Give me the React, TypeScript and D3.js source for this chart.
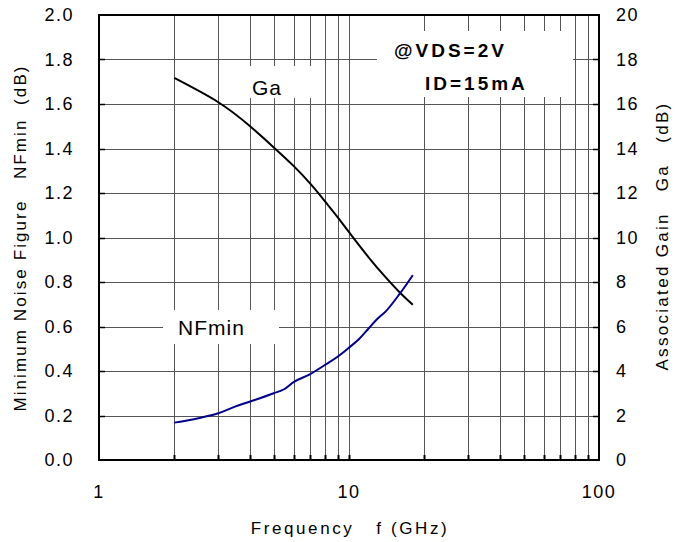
import React from "react";
import * as d3 from "d3";

const freqNF = [2, 2.5, 3, 3.5, 4, 5, 5.5, 6, 7, 8, 9, 10, 11, 12, 13, 14, 16, 18];
const nfMin = [0.168, 0.188, 0.21, 0.24, 0.262, 0.3, 0.318, 0.35, 0.386, 0.427, 0.464, 0.505, 0.545, 0.592, 0.635, 0.667, 0.749, 0.831];
const freqGa = [2, 3, 4, 5, 6, 7, 8, 9, 10, 12, 14, 16, 18];
const gaVals = [17.17, 16.08, 15.02, 14.05, 13.22, 12.42, 11.64, 10.92, 10.24, 9.1, 8.22, 7.52, 6.98];
const leftTicks = [0, 0.2, 0.4, 0.6, 0.8, 1.0, 1.2, 1.4, 1.6, 1.8, 2.0];
const rightTicks = [0, 2, 4, 6, 8, 10, 12, 14, 16, 18, 20];
const xTickLabels = [1, 10, 100];
const xMinor = [2, 3, 4, 5, 6, 7, 8, 9, 20, 30, 40, 50, 60, 70, 80, 90];

const FONT = "'Liberation Sans', Arial, Helvetica, sans-serif";

export default function App() {
  const L = 99, R = 599, T = 15, B = 460;
  const x = d3.scaleLog().domain([1, 100]).range([L, R]);
  const yL = d3.scaleLinear().domain([0, 2]).range([B, T]);
  const yR = d3.scaleLinear().domain([0, 20]).range([B, T]);

  const nfLine = d3.line<number>().x((_, i) => x(freqNF[i])).y((d) => yL(d)).curve(d3.curveMonotoneX);
  const gaLine = d3.line<number>().x((_, i) => x(freqGa[i])).y((d) => yR(d)).curve(d3.curveNatural);

  return (
    <svg width={680} height={542} style={{ position: "absolute", left: 0, top: 0, background: "#fff" }} fontFamily={FONT}>
      <rect x={0} y={0} width={680} height={542} fill="#fff" />
      {/* grid */}
      {leftTicks.slice(1, -1).map((t) => (
        <line key={"h" + t} x1={L} x2={R} y1={Math.round(yL(t)) + 0.5} y2={Math.round(yL(t)) + 0.5} stroke="#555" strokeWidth={1} />
      ))}
      {xMinor.map((f) => (
        <line key={"v" + f} x1={Math.round(x(f)) + 0.5} x2={Math.round(x(f)) + 0.5} y1={T} y2={B} stroke="#555" strokeWidth={1} />
      ))}
      <line x1={Math.round(x(10)) + 0.5} x2={Math.round(x(10)) + 0.5} y1={T} y2={B} stroke="#555" strokeWidth={1} />
      {/* label boxes */}
      <rect x={377} y={31} width={196} height={66} fill="#fff" />
      <rect x={225} y={66} width={97} height={32} fill="#fff" />
      <rect x={163} y={310} width={116} height={34} fill="#fff" />
      {/* inner ticks */}
      {leftTicks.slice(1, -1).map((t) => (
        <g key={"t" + t}>
          <line x1={L} x2={L + 6} y1={Math.round(yL(t)) + 0.5} y2={Math.round(yL(t)) + 0.5} stroke="#000" strokeWidth={1.5} />
          <line x1={R - 6} x2={R} y1={Math.round(yL(t)) + 0.5} y2={Math.round(yL(t)) + 0.5} stroke="#000" strokeWidth={1.5} />
        </g>
      ))}
      {xMinor.concat([10]).map((f) => (
        <line key={"bt" + f} x1={Math.round(x(f)) + 0.5} x2={Math.round(x(f)) + 0.5} y1={B - 5} y2={B} stroke="#000" strokeWidth={2} />
      ))}
      {/* curves */}
      <path d={gaLine(gaVals) || ""} fill="none" stroke="#000" strokeWidth={2} />
      <path d={nfLine(nfMin) || ""} fill="none" stroke="#00008B" strokeWidth={2} />
      {/* frame */}
      <rect x={L} y={T} width={R - L} height={B - T} fill="none" stroke="#000" strokeWidth={2} />
      {/* tick labels */}
      {leftTicks.map((t) => (
        <text key={"ll" + t} x={74} y={yL(t)} dy="0.36em" textAnchor="end" fontSize={18} letterSpacing={1.5} fill="#000">
          {t.toFixed(1)}
        </text>
      ))}
      {rightTicks.map((t) => (
        <text key={"rl" + t} x={616} y={yR(t)} dy="0.36em" textAnchor="start" fontSize={18} letterSpacing={1.5} fill="#000">
          {t}
        </text>
      ))}
      {xTickLabels.map((t) => (
        <text key={"xl" + t} x={x(t)} y={498} textAnchor="middle" fontSize={18} letterSpacing={1.5} fill="#000">
          {t}
        </text>
      ))}
      {/* axis titles */}
      <text x={350} y={534} textAnchor="middle" fontSize={17} letterSpacing={2.6} fill="#000" xmlSpace="preserve">
        {"Frequency   f (GHz)"}
      </text>
      <text transform="translate(26,238) rotate(-90)" textAnchor="middle" fontSize={17} letterSpacing={2.1} fill="#000" xmlSpace="preserve">
        {"Minimum Noise Figure   NFmin  (dB)"}
      </text>
      <text transform="translate(668,236) rotate(-90)" textAnchor="middle" fontSize={17} letterSpacing={2.3} fill="#000" xmlSpace="preserve">
        {"Associated Gain   Ga   (dB)"}
      </text>
      {/* annotations */}
      <text x={252} y={95} fontSize={21} letterSpacing={1} fill="#000">Ga</text>
      <text x={178} y={335} fontSize={21} letterSpacing={1} fill="#000">NFmin</text>
      <text x={394} y={57} fontSize={19} fontWeight="bold" letterSpacing={3} fill="#000">@VDS=2V</text>
      <text x={425} y={90} fontSize={19} fontWeight="bold" letterSpacing={3} fill="#000">ID=15mA</text>
    </svg>
  );
}
